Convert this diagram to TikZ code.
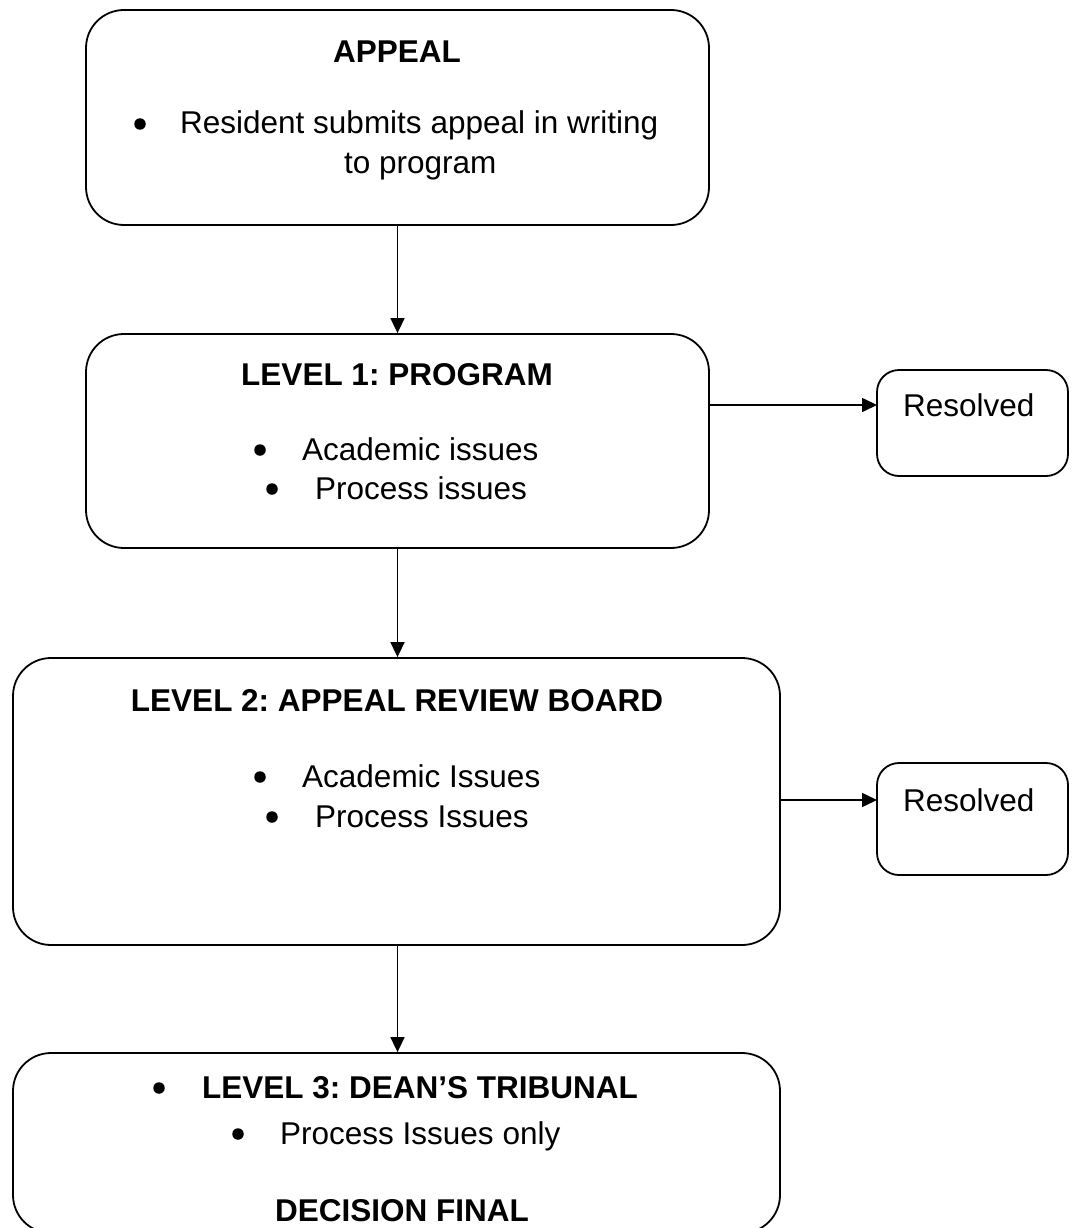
\documentclass[tikz,border=0pt]{standalone}
\usepackage{fontspec}
\setmainfont{Liberation Sans}
\usetikzlibrary{arrows.meta}
\begin{document}
\frenchspacing
\begin{tikzpicture}[x=1pt,y=-1pt,
  box/.style={draw, line width=1.8pt, rounded corners=38pt, inner sep=0pt},
  rbox/.style={draw, line width=1.8pt, rounded corners=22pt, inner sep=0pt},
  txt/.style={font=\fontsize{31.5}{34}\selectfont, inner sep=0pt},
  head/.style={txt, font=\fontsize{31.5}{34}\selectfont\bfseries},
  dot/.style={circle, fill, inner sep=0pt, minimum size=11.5pt},
  arr/.style={line width=1.6pt, -{Triangle[length=15pt,width=14pt]}}
]
\useasboundingbox (0,0) rectangle (1071,1228);
\path[clip] (0,0) rectangle (1071,1228);

% boxes
\node[box, minimum width=623pt, minimum height=215pt] (appeal) at (397.5,117.5) {};
\node[box, minimum width=623pt, minimum height=214pt] (lvl1) at (397.5,441) {};
\node[box, minimum width=767pt, minimum height=287pt] (lvl2) at (396.5,801.5) {};
\node[box, minimum width=767pt, minimum height=180pt] (lvl3) at (396.5,1143) {};
\node[rbox, minimum width=191pt, minimum height=106pt] (res1) at (972.5,423) {};
\node[rbox, minimum width=191pt, minimum height=112pt] (res2) at (972.5,819) {};

% appeal
\node[head, anchor=base] (t0) at (397,63) {APPEAL};
\node[dot] (b0) at (140,124) {};
\node[txt, anchor=base west] (t0a) at (180,134) {Resident submits appeal in writing};
\node[txt, anchor=base west] (t0b) at (344,173) {to program};

% level 1
\node[head, anchor=base] (t1) at (397,385) {LEVEL 1: PROGRAM};
\node[dot] (b1a) at (260,450) {};
\node[txt, anchor=base west] (t1a) at (302,460) {Academic issues};
\node[dot] (b1b) at (272,489) {};
\node[txt, anchor=base west] (t1b) at (315,499) {Process issues};

% level 2
\node[head, anchor=base] (t2) at (397,711) {LEVEL 2: APPEAL REVIEW BOARD};
\node[dot] (b2a) at (260,777) {};
\node[txt, anchor=base west] (t2a) at (302,787) {Academic Issues};
\node[dot] (b2b) at (272,817) {};
\node[txt, anchor=base west] (t2b) at (315,827) {Process Issues};

% level 3
\node[dot] (b3) at (159,1088) {};
\node[head, anchor=base west] (t3) at (202,1098) {LEVEL 3: DEAN’S TRIBUNAL};
\node[dot] (b3a) at (238,1134) {};
\node[txt, anchor=base west] (t3a) at (280,1144) {Process Issues only};
\node[head, anchor=base] (t3b) at (402,1221) {DECISION FINAL};

% resolved
\node[txt, anchor=base west] (r1t) at (903,416) {Resolved};
\node[txt, anchor=base west] (r2t) at (903,811) {Resolved};

% connectors
\coordinate (r1in) at (877,405);
\coordinate (r2in) at (877,800);
\draw[arr] (appeal.south) -- (lvl1.north);
\draw[arr] (lvl1.south) -- (lvl2.north -| lvl1.south);
\draw[arr] (lvl2.south -| lvl1.south) -- (lvl3.north -| lvl1.south);
\draw[arr] (lvl1.east |- r1in) -- (r1in);
\draw[arr] (lvl2.east |- r2in) -- (r2in);
\end{tikzpicture}
\end{document}
